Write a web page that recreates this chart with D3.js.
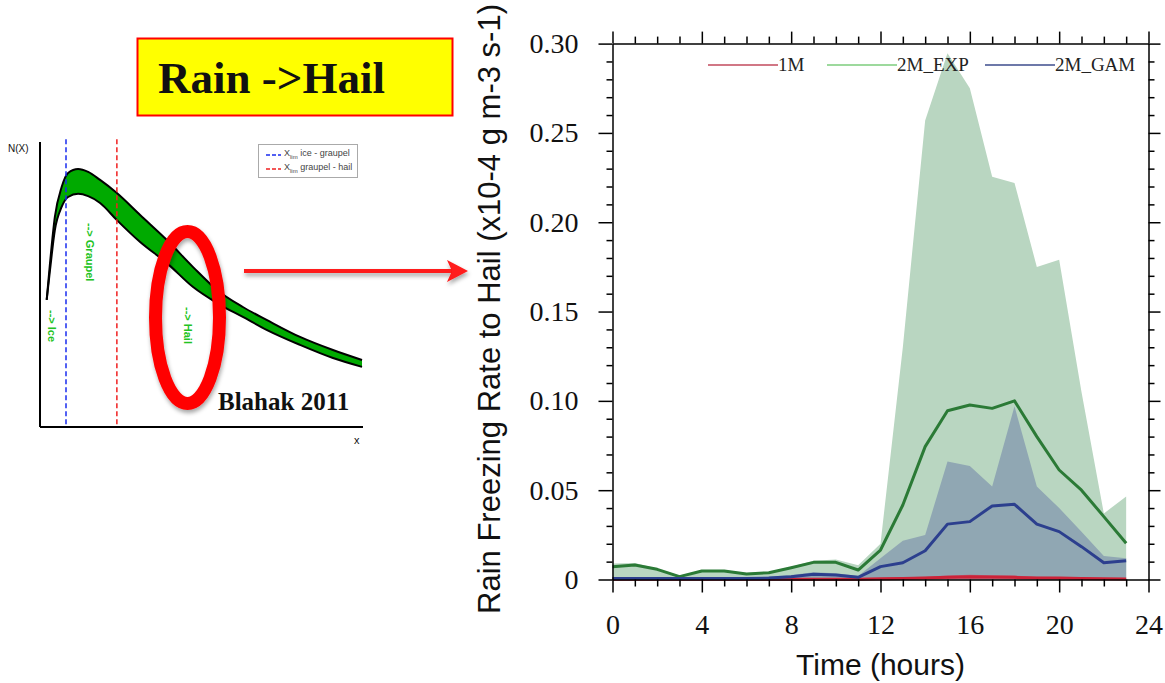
<!DOCTYPE html>
<html>
<head>
<meta charset="utf-8">
<script src="https://cdn.jsdelivr.net/npm/d3@7"></script>
<style>
  body { margin: 0; background: #fff; }
  svg { display: block; }
</style>
</head>
<body>
<svg id="fig" width="1165" height="683"></svg>
<script>
// ---------- time-series data (hourly, units of 1e-4 g m-3 s-1) ----------
const hours = [0,1,2,3,4,5,6,7,8,9,10,11,12,13,14,15,16,17,18,19,20,21,22,23];

const m1Mean  = [0.0002,0.0002,0.0002,0.0002,0.0002,0.0002,0.0002,0.0002,0.0002,0.0002,0.0002,0.0002,
                 0.0004,0.0006,0.0008,0.0012,0.0015,0.0014,0.0012,0.0008,0.0008,0.0006,0.0004,0.0003];
const m1Max   = [0.0004,0.0004,0.0004,0.0004,0.0004,0.0004,0.0004,0.0004,0.0004,0.0004,0.0004,0.0004,
                 0.0008,0.0012,0.0016,0.0022,0.0026,0.0024,0.0022,0.0016,0.0014,0.0012,0.0008,0.0006];

const expMean = [0.0072,0.0081,0.0057,0.0016,0.0048,0.0048,0.0031,0.0038,0.0066,0.0096,0.0096,0.0053,
                 0.0165,0.0417,0.0744,0.0945,0.0977,0.0958,0.1000,0.0800,0.0613,0.0500,0.0352,0.0203];
const expMax  = [0.0090,0.0092,0.0062,0.0022,0.0052,0.0052,0.0036,0.0042,0.0072,0.0105,0.0112,0.0080,
                 0.0200,0.1300,0.2570,0.2946,0.2750,0.2255,0.2220,0.1750,0.1790,0.1050,0.0370,0.0464];

const gamMean = [0.0005,0.0005,0.0005,0.0005,0.0005,0.0005,0.0005,0.0008,0.0016,0.0030,0.0025,0.0012,
                 0.0072,0.0094,0.0161,0.0310,0.0324,0.0412,0.0421,0.0310,0.0268,0.0184,0.0094,0.0105];
const gamMax  = [0.0010,0.0010,0.0010,0.0010,0.0010,0.0010,0.0010,0.0015,0.0025,0.0040,0.0035,0.0020,
                 0.0119,0.0217,0.0249,0.0660,0.0636,0.0520,0.0970,0.0520,0.0400,0.0268,0.0132,0.0119];

const seriesNames = ["1M", "2M_EXP", "2M_GAM"];

// tick values and labels
const yMajor = [0, 0.05, 0.10, 0.15, 0.20, 0.25, 0.30];
const yMajorLabels = ["0", "0.05", "0.10", "0.15", "0.20", "0.25", "0.30"];
const yMinor = [0.01,0.02,0.03,0.04,0.06,0.07,0.08,0.09,0.11,0.12,0.13,0.14,0.16,0.17,0.18,0.19,
                0.21,0.22,0.23,0.24,0.26,0.27,0.28,0.29];
const xMajor = [0, 4, 8, 12, 16, 20, 24];
const xMajorLabels = ["0", "4", "8", "12", "16", "20", "24"];
const xMinor = [1,2,3,5,6,7,9,10,11,13,14,15,17,18,19,21,22,23];

// ---------- schematic size distribution (arbitrary units) ----------
const psdX     = [2.07,3.1,4.6,6.7,8.7,11.8,14.9,18.6,23.8,31.0,39.3,47.4,54.8,62.8,70.3,80.5,90.7,99.7];
const psdUpper = [44.6,57.5,73.7,84.2,89.1,90.5,89.5,86.7,82.1,74.4,65.6,56.1,48.1,42.1,37.5,31.6,27.0,23.5];
const psdLower = [44.6,55.1,69.1,77.2,80.7,81.8,81.0,78.6,72.6,64.9,57.5,49.1,43.5,38.6,34.0,28.8,24.2,21.1];
const xlimIceGraupel = 8.05;
const xlimGraupelHail = 23.8;
const habitLabels = ["--> Ice", "--> Graupel", "--> Hail"];

// ---------- styles ----------
const SERIF = "'Liberation Serif', 'Times New Roman', serif";
const SANS  = "'Liberation Sans', Arial, sans-serif";
const C = {
  expFill: "#b9d6c1", gamFill: "#90a7b3", m1Fill: "#d0405a",
  expLine: "#2b7a36", gamLine: "#2c3f8e", m1Line: "#cc2238",
  legend: ["#c24a5c", "#7ccc7c", "#3d4c8c"]
};

const svg = d3.select("#fig");
svg.append("rect").attr("width", 1165).attr("height", 683).attr("fill", "#fff");

const defs = svg.append("defs");
const sh = defs.append("filter").attr("id", "shadow")
  .attr("x", "-20%").attr("y", "-20%").attr("width", "140%").attr("height", "150%");
sh.append("feDropShadow").attr("dx", 1).attr("dy", 3).attr("stdDeviation", 2)
  .attr("flood-color", "#000").attr("flood-opacity", 0.35);

// =====================================================================
// Left panel: title box, schematic PSD, arrow
// =====================================================================
const title = svg.append("g");
title.append("rect").attr("x", 137.5).attr("y", 38.5).attr("width", 315).attr("height", 77)
  .attr("fill", "#ffff00").attr("stroke", "#ff0000").attr("stroke-width", 2);
title.append("text").attr("x", 158).attr("y", 93)
  .attr("font-family", SERIF).attr("font-weight", "bold").attr("font-size", 45)
  .attr("fill", "#111").text("Rain ->Hail");

const sx = d3.scaleLinear().domain([0, 100]).range([40, 363]);
const sy = d3.scaleLinear().domain([0, 100]).range([427, 142]);
const psd = psdX.map((x, i) => ({ x, lo: psdLower[i], hi: psdUpper[i] }));

const schem = svg.append("g");
// axes
schem.append("line").attr("x1", sx(0)).attr("x2", sx(0)).attr("y1", sy(100)).attr("y2", sy(0))
  .attr("stroke", "#000").attr("stroke-width", 2);
schem.append("line").attr("x1", sx(0)).attr("x2", sx(100)).attr("y1", sy(0)).attr("y2", sy(0))
  .attr("stroke", "#000").attr("stroke-width", 2);
schem.append("text").attr("x", 8).attr("y", 152).attr("font-family", SANS).attr("font-size", 10)
  .attr("fill", "#111").text("N(X)");
schem.append("text").attr("x", 354).attr("y", 444).attr("font-family", SANS).attr("font-size", 11)
  .attr("fill", "#111").text("x");

// band
schem.append("path").datum(psd)
  .attr("d", d3.area().x(d => sx(d.x)).y0(d => sy(d.lo)).y1(d => sy(d.hi)).curve(d3.curveMonotoneX))
  .attr("fill", "#00aa00");
["lo", "hi"].forEach(k => {
  schem.append("path").datum(psd)
    .attr("d", d3.line().x(d => sx(d.x)).y(d => sy(d[k])).curve(d3.curveMonotoneX))
    .attr("fill", "none").attr("stroke", "#000").attr("stroke-width", 2);
});

// thresholds
[[xlimIceGraupel, "#1a2cf0"], [xlimGraupelHail, "#f02020"]].forEach(([v, col]) => {
  schem.append("line").attr("x1", sx(v)).attr("x2", sx(v)).attr("y1", sy(101)).attr("y2", sy(0))
    .attr("stroke", col).attr("stroke-width", 1.5).attr("stroke-dasharray", "5,3");
});

// habit labels, rotated
const habitPos = [[51.7, 310], [90, 223], [188, 307]];
habitLabels.forEach((t, i) => {
  schem.append("text")
    .attr("transform", `translate(${habitPos[i][0]},${habitPos[i][1]}) rotate(90)`)
    .attr("dy", "0.35em").attr("font-family", SANS).attr("font-weight", "bold")
    .attr("font-size", 11).attr("fill", "#22c322").text(t);
});

// schematic legend
const sl = schem.append("g");
sl.append("rect").attr("x", 258.5).attr("y", 144.5).attr("width", 99).attr("height", 33)
  .attr("fill", "#fff").attr("stroke", "#aaa").attr("stroke-width", 1);
[["ice - graupel", "#1a2cf0", 155], ["graupel - hail", "#f02020", 169]].forEach(([t, col, y]) => {
  sl.append("line").attr("x1", 266).attr("x2", 281).attr("y1", y).attr("y2", y)
    .attr("stroke", col).attr("stroke-width", 1.5).attr("stroke-dasharray", "4,2");
  const tx = sl.append("text").attr("x", 284).attr("y", y + 1).attr("font-family", SANS)
    .attr("font-size", 9).attr("fill", "#444");
  tx.append("tspan").text("X");
  tx.append("tspan").attr("font-size", 6).attr("dy", 3).text("lim");
  tx.append("tspan").attr("dy", -3).text(" " + t);
});

// highlight ellipse and citation
schem.append("ellipse").attr("cx", 187.5).attr("cy", 317.5).attr("rx", 32).attr("ry", 86)
  .attr("fill", "none").attr("stroke", "#ff0000").attr("stroke-width", 13)
  .attr("filter", "url(#shadow)");
schem.append("text").attr("x", 218).attr("y", 410).attr("font-family", SERIF)
  .attr("font-weight", "bold").attr("font-size", 25).attr("fill", "#111").text("Blahak 2011");

// arrow toward the right-hand panel
const arrow = svg.append("g").attr("filter", "url(#shadow)");
arrow.append("line").attr("x1", 244).attr("x2", 452).attr("y1", 271).attr("y2", 271)
  .attr("stroke", "#ff1a1a").attr("stroke-width", 4);
arrow.append("path").attr("d", "M447,260 L468,271 L447,282 L452,271 Z").attr("fill", "#ff1a1a");

// =====================================================================
// Right panel: time series
// =====================================================================
const x = d3.scaleLinear().domain([0, 24]).range([612.5, 1148.5]);
const y = d3.scaleLinear().domain([0, 0.30]).range([579.5, 43.6]);

const rows = hours.map((h, i) => ({
  h, m1: m1Mean[i], m1x: m1Max[i], exp: expMean[i], expx: expMax[i], gam: gamMean[i], gamx: gamMax[i]
}));

const plot = svg.append("g");
const area = k => d3.area().x(d => x(d.h)).y0(y(0)).y1(d => y(d[k]));
const line = k => d3.line().x(d => x(d.h)).y(d => y(d[k]));

plot.append("path").datum(rows).attr("d", area("expx")).attr("fill", C.expFill);
plot.append("path").datum(rows).attr("d", area("gamx")).attr("fill", C.gamFill);
plot.append("path").datum(rows).attr("d", area("m1x")).attr("fill", C.m1Fill).attr("opacity", 0.6);

plot.append("path").datum(rows).attr("d", line("m1")).attr("fill", "none")
  .attr("stroke", C.m1Line).attr("stroke-width", 3);
plot.append("path").datum(rows).attr("d", line("exp")).attr("fill", "none")
  .attr("stroke", C.expLine).attr("stroke-width", 3).attr("stroke-linejoin", "round");
plot.append("path").datum(rows).attr("d", line("gam")).attr("fill", "none")
  .attr("stroke", C.gamLine).attr("stroke-width", 3).attr("stroke-linejoin", "round");

// axes: outward ticks on all four sides
function styleAxis(g) {
  g.selectAll("path.domain").attr("stroke", "#000").attr("stroke-width", 1.5);
  g.selectAll(".tick line").attr("stroke", "#000").attr("stroke-width", 1.5);
}
const yFmt = d => yMajorLabels[yMajor.indexOf(d)];
const xFmt = d => xMajorLabels[xMajor.indexOf(d)];

const gL = svg.append("g").attr("transform", `translate(${x(0)},0)`)
  .call(d3.axisLeft(y).tickValues(yMajor).tickFormat(yFmt).tickSize(14).tickSizeOuter(0).tickPadding(20));
gL.append("g").call(d3.axisLeft(y).tickValues(yMinor).tickFormat("").tickSize(6).tickSizeOuter(0))
  .select("path.domain").remove();
const gR = svg.append("g").attr("transform", `translate(${x(24)},0)`)
  .call(d3.axisRight(y).tickValues(yMajor).tickFormat("").tickSize(12).tickSizeOuter(0));
gR.append("g").call(d3.axisRight(y).tickValues(yMinor).tickFormat("").tickSize(6).tickSizeOuter(0))
  .select("path.domain").remove();
const gB = svg.append("g").attr("transform", `translate(0,${y(0)})`)
  .call(d3.axisBottom(x).tickValues(xMajor).tickFormat(xFmt).tickSize(13).tickSizeOuter(0).tickPadding(22));
gB.append("g").call(d3.axisBottom(x).tickValues(xMinor).tickFormat("").tickSize(7).tickSizeOuter(0))
  .select("path.domain").remove();
const gT = svg.append("g").attr("transform", `translate(0,${y(0.30)})`)
  .call(d3.axisTop(x).tickValues(xMajor).tickFormat("").tickSize(12).tickSizeOuter(0));
gT.append("g").call(d3.axisTop(x).tickValues(xMinor).tickFormat("").tickSize(7).tickSizeOuter(0))
  .select("path.domain").remove();
[gL, gR, gB, gT].forEach(styleAxis);
[gL, gB].forEach(g => g.selectAll(".tick text")
  .attr("font-family", SERIF).attr("font-size", 28).attr("fill", "#111"));

// axis titles
svg.append("text").attr("x", x(12)).attr("y", 675).attr("text-anchor", "middle")
  .attr("font-family", SANS).attr("font-size", 30).attr("fill", "#111").text("Time (hours)");
svg.append("text").attr("transform", `translate(500,309) rotate(-90)`).attr("text-anchor", "middle")
  .attr("font-family", SANS).attr("font-size", 31).attr("fill", "#111")
  .text("Rain Freezing Rate to Hail (x10-4 g m-3 s-1)");

// legend
const legendX = [708, 827, 985];
seriesNames.forEach((name, i) => {
  const g = svg.append("g").attr("transform", `translate(${legendX[i]},65)`);
  g.append("line").attr("x1", 0).attr("x2", 70).attr("y1", 0).attr("y2", 0)
    .attr("stroke", C.legend[i]).attr("stroke-width", 1.5);
  g.append("text").attr("x", 70).attr("y", 6).attr("font-family", SERIF).attr("font-size", 19)
    .attr("fill", "#222").text(name);
});
</script>
</body>
</html>
